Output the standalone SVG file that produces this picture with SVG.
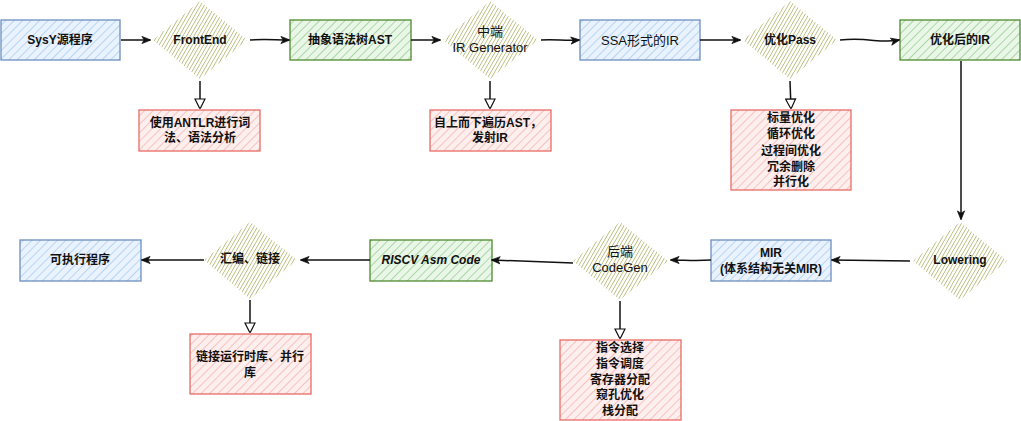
<svg xmlns="http://www.w3.org/2000/svg" width="1021" height="421" viewBox="0 0 1021 421">
<defs>
<pattern id="hb" width="6" height="6" patternUnits="userSpaceOnUse" patternTransform="rotate(45)"><rect width="6" height="6" fill="#eaf3fd"/><line x1="0" y1="0" x2="0" y2="6" stroke="#add0f3" stroke-width="1.7"/></pattern>
<pattern id="hg" width="6" height="6" patternUnits="userSpaceOnUse" patternTransform="rotate(45)"><rect width="6" height="6" fill="#eaf6e8"/><line x1="0" y1="0" x2="0" y2="6" stroke="#9fd399" stroke-width="1.7"/></pattern>
<pattern id="hr" width="6" height="6" patternUnits="userSpaceOnUse" patternTransform="rotate(45)"><rect width="6" height="6" fill="#fdefee"/><line x1="0" y1="0" x2="0" y2="6" stroke="#f5bab8" stroke-width="1.7"/></pattern>
<pattern id="hd" width="3.2" height="3.2" patternUnits="userSpaceOnUse" patternTransform="rotate(30)"><line x1="0" y1="0" x2="0" y2="3.2" stroke="#bcbc7e" stroke-width="1.7"/></pattern>
<marker id="ac" viewBox="0 0 10 10" refX="9" refY="5" markerWidth="10" markerHeight="9" markerUnits="userSpaceOnUse" orient="auto"><path d="M0,1 L10,5 L0,9 L2.5,5 Z" fill="#111" stroke="#111" stroke-width="0.8"/></marker>
<marker id="ao" viewBox="0 0 10 12" refX="11" refY="6" markerWidth="10" markerHeight="12" markerUnits="userSpaceOnUse" orient="auto"><path d="M1,1 L11,6 L1,11 Z" fill="#fff" stroke="#111" stroke-width="1.2"/></marker>
</defs>
<style>
.b{fill:url(#hb);stroke:#6c8ebf;stroke-width:1.3}
.g{fill:url(#hg);stroke:#4f8a2f;stroke-width:1.3}
.r{fill:url(#hr);stroke:#ea6b66;stroke-width:1.3}
.d{fill:url(#hd);stroke:none}
.t{font-family:"Liberation Sans","Noto Sans CJK SC",sans-serif;font-size:12px;font-weight:bold;fill:#111;text-anchor:middle;dominant-baseline:central}
.n{font-weight:normal;font-size:13px}
.c path{fill:none;stroke:#111;stroke-width:1.5}
</style>
<rect width="1021" height="421" fill="#fff"/>
<g id="sysy"><rect class="b" x="1" y="20" width="119" height="40"/><text class="t" x="60" y="40">SysY源程序</text></g>
<g id="frontend"><polygon class="d" points="200,1 247,40 200,79 153,40"/><text class="t" x="200" y="40">FrontEnd</text></g>
<g id="ast"><rect class="g" x="290" y="20" width="121" height="40"/><text class="t" x="350" y="40">抽象语法树AST</text></g>
<g id="irgen"><polygon class="d" points="490,1 538,40 490,79 443,40"/><text class="t n" x="490" y="31">中端</text><text class="t n" x="490" y="47">IR Generator</text></g>
<g id="ssa"><rect class="b" x="580" y="20" width="120" height="40"/><text class="t n" x="640" y="40">SSA形式的IR</text></g>
<g id="optpass"><polygon class="d" points="790,1 837,40 790,79 743,40"/><text class="t" x="790" y="40">优化Pass</text></g>
<g id="optir"><rect class="g" x="900" y="20" width="120" height="40"/><text class="t" x="960" y="40">优化后的IR</text></g>
<g id="antlr"><rect class="r" x="139" y="110" width="121" height="41"/><text class="t" x="200" y="123">使用ANTLR进行词</text><text class="t" x="200" y="138">法、语法分析</text></g>
<g id="topdown"><rect class="r" x="430" y="110" width="121" height="41"/><text class="t" x="488" y="123">自上而下遍历AST，</text><text class="t" x="490" y="138">发射IR</text></g>
<g id="opts"><rect class="r" x="731" y="110" width="120" height="80"/><text class="t" x="791" y="118">标量优化</text><text class="t" x="791" y="134">循环优化</text><text class="t" x="791" y="151">过程间优化</text><text class="t" x="791" y="167">冗余删除</text><text class="t" x="791" y="182">并行化</text></g>
<g id="lowering"><polygon class="d" points="960,222 1007,261 960,300 913,261"/><text class="t" x="960" y="260">Lowering</text></g>
<g id="mir"><rect class="b" x="711" y="240" width="120" height="41"/><text class="t" x="771" y="253">MIR</text><text class="t" x="771" y="269">(体系结构无关MIR)</text></g>
<g id="codegen"><polygon class="d" points="620,222 668,261 620,300 573,261"/><text class="t n" x="620" y="251">后端</text><text class="t n" x="620" y="267">CodeGen</text></g>
<g id="riscv"><rect class="g" x="370" y="240" width="122" height="41"/><text class="t" x="431" y="260" font-style="italic">RISCV Asm Code</text></g>
<g id="backend"><rect class="r" x="560" y="340" width="121" height="80"/><text class="t" x="620" y="348">指令选择</text><text class="t" x="620" y="364">指令调度</text><text class="t" x="620" y="380">寄存器分配</text><text class="t" x="620" y="395">窥孔优化</text><text class="t" x="620" y="411">栈分配</text></g>
<g id="link"><polygon class="d" points="250,222 297,260 250,299 204,260"/><text class="t" x="250" y="259">汇编、链接</text></g>
<g id="exe"><rect class="b" x="20" y="240" width="121" height="41"/><text class="t" x="80" y="260">可执行程序</text></g>
<g id="runtime"><rect class="r" x="190" y="334" width="121" height="60"/><text class="t" x="250" y="357">链接运行时库、并行</text><text class="t" x="250" y="373">库</text></g>
<g class="c" id="connectors">
<path d="M121,40 L150,40" marker-end="url(#ac)"/>
<path d="M250,40 C265,39 275,40 289,40" marker-end="url(#ac)"/>
<path d="M411,40 L440,40" marker-end="url(#ac)"/>
<path d="M541,40 C555,39 565,41 579,40" marker-end="url(#ac)"/>
<path d="M700,40 L740,40" marker-end="url(#ac)"/>
<path d="M840,40 C870,37 880,44 899,40" marker-end="url(#ac)"/>
<path d="M200,81 L200,109" marker-end="url(#ao)"/>
<path d="M490,81 L490,109" marker-end="url(#ao)"/>
<path d="M790,81 L791,109" marker-end="url(#ao)"/>
<path d="M961,61 L961,219" marker-end="url(#ac)"/>
<path d="M910,261 L832,260" marker-end="url(#ac)"/>
<path d="M711,260 C695,261 685,260 671,260" marker-end="url(#ac)"/>
<path d="M573,263 L492,260" marker-end="url(#ac)"/>
<path d="M370,260 L301,260" marker-end="url(#ac)"/>
<path d="M620,301 L620,339" marker-end="url(#ao)"/>
<path d="M204,260 L142,260" marker-end="url(#ac)"/>
<path d="M250,300 L250,333" marker-end="url(#ao)"/>
</g>
</svg>
